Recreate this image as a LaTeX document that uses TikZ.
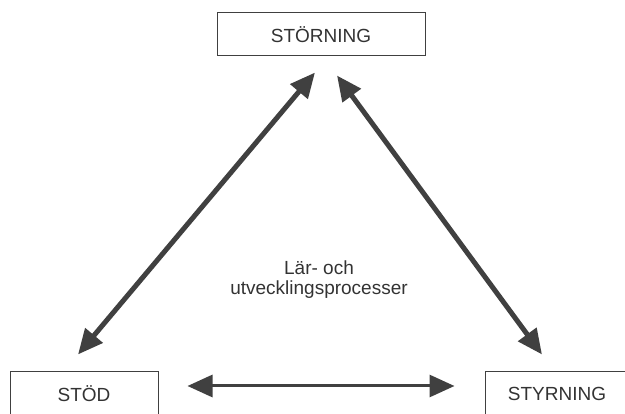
\documentclass[tikz,border=0pt]{standalone}
\usepackage{fontspec}
\setmainfont{Liberation Sans}
\usepackage{tikz}
\usetikzlibrary{arrows.meta, positioning}
\colorlet{colorLine}{black!75}
\colorlet{colorText}{black!80}

\begin{document}
\begin{tikzpicture}[x=1pt, y=-1pt, >={Triangle[length=25pt, width=22pt]},
  every node/.style={inner sep=0pt},
  box/.style={draw=colorLine, line width=1pt, minimum height=43pt, text=colorText, font=\fontsize{19}{21}\selectfont},
  link/.style={<->, colorLine, line width=5pt}]
\useasboundingbox (0,0) rectangle (625,414);
\node[box, minimum width=208pt] (storning) at (321,34.5) {STÖRNING};
\node[box, minimum width=148pt] (stod) at (84,393.5) {STÖD};
\node[box, minimum width=144pt] (styrning) at (557,393.5) {STYRNING};
\node[align=center, text=colorText, font=\fontsize{19}{20}\selectfont] (process) at (319,280) {Lär- och\\utvecklingsprocesser};
% arrow ends
\coordinate (a1) at ([xshift=-6pt, yshift=17pt]stod.north);
\coordinate (a2) at ([xshift=-6pt, yshift=-16pt]storning.south);
\coordinate (b1) at ([xshift=16pt, yshift=-19pt]storning.south);
\coordinate (b2) at ([xshift=-15pt, yshift=17pt]styrning.north);
\draw[link] (a1) -- (a2);
\draw[link] (b1) -- (b2);
\draw[link, line width=3pt, shorten <=29pt, shorten >=30pt] ([yshift=7.5pt]stod.east) -- ([yshift=7.5pt]styrning.west);
\end{tikzpicture}
\end{document}
